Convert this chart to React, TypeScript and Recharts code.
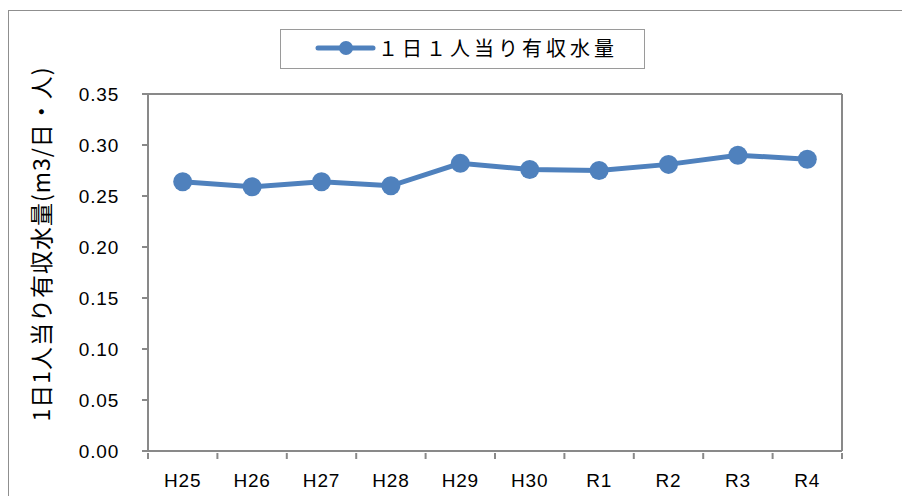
import React from "react";
import { LineChart, Line, XAxis, YAxis, CartesianGrid, Legend, Label } from "recharts";

const categories = ["H25", "H26", "H27", "H28", "H29", "H30", "R1", "R2", "R3", "R4"];
const values = [0.264, 0.259, 0.264, 0.26, 0.282, 0.276, 0.275, 0.281, 0.29, 0.286];
const yTicks = [0, 0.05, 0.1, 0.15, 0.2, 0.25, 0.3, 0.35];
const seriesName = "１日１人当り有収水量";
const yTitle = "1日1人当り有収水量(m3/日・人)";

const data = categories.map((c, i) => ({ name: c, value: values[i] }));

const BLUE = "#4F81BD";
const GRAY = "#898989";
const TICK_FONT = "'Liberation Sans', Arial, sans-serif";
const CJK_FONT = "'Noto Sans CJK JP', sans-serif";

const XTick = (props: any) => {
  const { x, y, payload, index, visibleTicksCount, width } = props;
  const n = visibleTicksCount || categories.length;
  const half = (width || 694) / n / 2;
  return (
    <g>
      <line x1={x - half} y1={y - 6} x2={x - half} y2={y} stroke={GRAY} strokeWidth={2} />
      {index === n - 1 && (
        <line x1={x + half} y1={y - 6} x2={x + half} y2={y} stroke={GRAY} strokeWidth={2} />
      )}
      <text
        x={x}
        y={y + 21}
        textAnchor="middle"
        dominantBaseline="central"
        fontFamily={TICK_FONT}
        fontSize={19}
        letterSpacing={0.8}
        fill="#000"
      >
        {payload.value}
      </text>
    </g>
  );
};

const LegendBox = () => (
  <div
    style={{
      position: "absolute",
      left: 280,
      top: 29,
      width: 363,
      height: 38,
      border: "1.5px solid #9a9a9a",
      background: "#fff",
      boxSizing: "content-box",
    }}
  >
    <svg width={70} height={38} style={{ position: "absolute", left: 34, top: 0 }}>
      <line x1={3} y1={18} x2={58} y2={18} stroke={BLUE} strokeWidth={5} strokeLinecap="round" />
      <circle cx={31} cy={18} r={7} fill={BLUE} />
    </svg>
    <span
      style={{
        position: "absolute",
        left: 97,
        top: 0,
        lineHeight: "36px",
        fontFamily: CJK_FONT,
        fontSize: 20,
        letterSpacing: 4,
        color: "#000",
        whiteSpace: "nowrap",
      }}
    >
      {seriesName}
    </span>
  </div>
);

const YTitle = () => (
  <text
    x={40}
    y={244}
    transform="rotate(-90 40 244)"
    textAnchor="middle"
    dominantBaseline="central"
    fontFamily={CJK_FONT}
    fontSize={23}
    letterSpacing={1}
    fill="#000"
  >
    {yTitle}
  </text>
);

export default function App() {
  return (
    <div
      style={{
        position: "fixed",
        left: 0,
        top: 0,
        width: 902,
        height: 496,
        overflow: "hidden",
        background: "#fff",
      }}
    >
      <div
        style={{
          position: "absolute",
          left: 8,
          top: 10,
          width: 920,
          height: 520,
          border: "1.5px solid #8f8f8f",
        }}
      />
      <div style={{ position: "absolute", left: 0, top: 0 }}>
        <LineChart
          width={902}
          height={496}
          data={data}
          margin={{ top: 94, right: 59, bottom: 5, left: 0 }}
        >
          <CartesianGrid horizontal vertical={false} stroke={GRAY} strokeWidth={2} />
          <XAxis
            dataKey="name"
            scale="band"
            axisLine={{ stroke: GRAY, strokeWidth: 2 }}
            tickLine={false}
            tick={<XTick />}
            height={40}
            interval={0}
          />
          <YAxis
            yAxisId="left"
            width={148}
            domain={[0, 0.35]}
            ticks={yTicks}
            interval={0}
            tickFormatter={(v: number) => v.toFixed(2)}
            axisLine={{ stroke: GRAY, strokeWidth: 2 }}
            tickLine={{ stroke: GRAY, strokeWidth: 2 }}
            tickSize={6}
            tickMargin={23}
            tick={{ fill: "#000", fontSize: 19, fontFamily: TICK_FONT, letterSpacing: 0.8 }}
          >
            <Label content={<YTitle />} />
          </YAxis>
          <YAxis
            yAxisId="right"
            orientation="right"
            width={1}
            domain={[0, 0.35]}
            tick={false}
            tickLine={false}
            axisLine={{ stroke: GRAY, strokeWidth: 2 }}
          />
          <Legend content={<LegendBox />} wrapperStyle={{ position: "absolute", left: 0, top: 0, width: 0, height: 0 }} />
          <Line
            yAxisId="left"
            type="linear"
            dataKey="value"
            name={seriesName}
            stroke={BLUE}
            strokeWidth={5}
            dot={{ r: 9.5, fill: BLUE, stroke: BLUE, strokeWidth: 0 }}
            activeDot={false}
            isAnimationActive={false}
          />
        </LineChart>
      </div>
    </div>
  );
}
